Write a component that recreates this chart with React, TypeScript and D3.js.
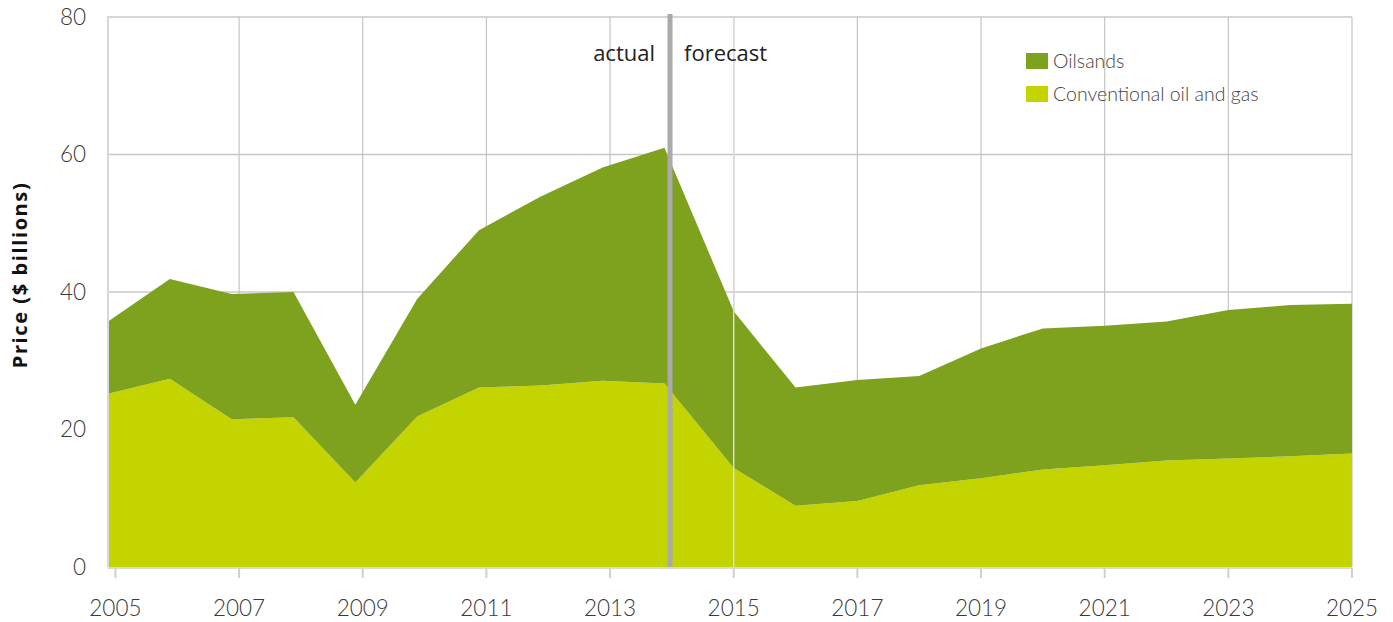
import React from 'react';
import * as d3 from 'd3';

// values in $ billions
const years = [2005, 2006, 2007, 2008, 2009, 2010, 2011, 2012, 2013, 2014, 2015,
  2016, 2017, 2018, 2019, 2020, 2021, 2022, 2023, 2024, 2025];
const conventional = [25.2, 27.4, 21.5, 21.8, 12.3, 21.9, 26.1, 26.4, 27.1, 26.7, 14.4,
  8.9, 9.6, 11.9, 12.9, 14.2, 14.8, 15.5, 15.8, 16.1, 16.5];
const oilsands = [10.5, 14.5, 18.2, 18.2, 11.3, 17.1, 22.9, 27.5, 31.0, 34.3, 22.8,
  17.2, 17.6, 15.9, 18.9, 20.5, 20.3, 20.2, 21.6, 22.0, 21.8];
const tickYears = [2005, 2007, 2009, 2011, 2013, 2015, 2017, 2019, 2021, 2023, 2025];
const yTicks = [0, 20, 40, 60, 80];
const lastActual = 2014;
const seriesNames = ['Oilsands', 'Conventional oil and gas'];

const W = 1393;
const H = 622;
const margin = { top: 17, right: 41, bottom: 55, left: 108 };
const COL_OIL = '#7ea21e';
const COL_CONV = '#c3d400';
const labelFont = 'Lato, "Open Sans", sans-serif';

const App: React.FC = () => {
  const x = d3.scaleLinear()
    .domain([2004.88, 2025])
    .range([margin.left, W - margin.right]);
  const y = d3.scaleLinear()
    .domain([0, 80])
    .range([H - margin.bottom, margin.top]);

  // actual values sit slightly before the year mark in the original
  const px = (yr: number) => x(yr <= lastActual ? yr - 0.12 : yr);

  const rows = years.map((yr, i) => ({ yr, conv: conventional[i], oil: oilsands[i] }));

  const convArea = d3.area<typeof rows[0]>()
    .x(d => px(d.yr))
    .y0(y(0))
    .y1(d => y(d.conv));
  const oilArea = d3.area<typeof rows[0]>()
    .x(d => px(d.yr))
    .y0(d => y(d.conv))
    .y1(d => y(d.conv + d.oil));

  const x0 = margin.left;
  const x1 = W - margin.right;
  const yBottom = y(0);
  const divX = x(lastActual - 0.03);

  return (
    <div style={{ position: 'absolute', left: 0, top: 0 }}>
      <svg width={W} height={H} style={{ display: 'block', background: '#fff' }}>
        {/* grid */}
        {yTicks.filter(t => t > 0).map(t => (
          <line key={'h' + t} x1={x0} x2={x1} y1={y(t)} y2={y(t)} stroke="#c8c8c8" strokeWidth={1.5} />
        ))}
        {tickYears.filter(t => t > 2005).map(t => (
          <line key={'v' + t} x1={x(t)} x2={x(t)} y1={margin.top} y2={yBottom} stroke="#c4c4c4" strokeWidth={1.2} />
        ))}

        {/* stacked areas */}
        <path d={convArea(rows) || ''} fill={COL_CONV} />
        <path d={oilArea(rows) || ''} fill={COL_OIL} />

        {/* 2015 gridline shows through the areas */}
        <line x1={x(2015)} x2={x(2015)} y1={margin.top} y2={yBottom} stroke="#dadada" strokeWidth={1.5} />

        {/* axes */}
        <line x1={x0} x2={x0} y1={margin.top - 1} y2={yBottom} stroke="#d8d8d8" strokeWidth={2} />
        <line x1={x0} x2={x1} y1={yBottom + 1} y2={yBottom + 1} stroke="#d8d8d8" strokeWidth={2} />
        {tickYears.map(t => (
          <line key={'t' + t} x1={x(t)} x2={x(t)} y1={yBottom + 1} y2={yBottom + 11} stroke="#d0d0d0" strokeWidth={2} />
        ))}

        {/* actual / forecast divider */}
        <line x1={divX} x2={divX} y1={margin.top - 3} y2={yBottom} stroke="#aaaaaa" strokeWidth={5} />
        <text x={divX - 15} y={61} textAnchor="end" fontFamily='"Open Sans", sans-serif' fontSize={22} fill="#222">actual</text>
        <text x={divX + 14} y={61} textAnchor="start" fontFamily='"Open Sans", sans-serif' fontSize={22} fill="#222">forecast</text>

        {/* tick labels */}
        {tickYears.map(t => (
          <text key={'xl' + t} x={x(t)} y={616} textAnchor="middle" fontFamily={labelFont} fontWeight={300} fontSize={22.5} fill="#3a3a3a">{t}</text>
        ))}
        {yTicks.map(t => (
          <text key={'yl' + t} x={86} y={y(t)} dy="0.35em" textAnchor="end" fontFamily={labelFont} fontWeight={300} fontSize={22.5} fill="#3a3a3a">{t}</text>
        ))}

        {/* y title */}
        <text transform={`translate(27,275) rotate(-90)`} textAnchor="middle"
          fontFamily='"Open Sans", sans-serif' fontWeight={700} fontSize={20} letterSpacing={1.6} fill="#111">Price ($ billions)</text>

        {/* legend */}
        {seriesNames.map((name, i) => (
          <g key={name} transform={`translate(1026,${53 + i * 33})`}>
            <rect width={22} height={16} fill={i === 0 ? COL_OIL : COL_CONV} />
            <text x={27} y={8} dy="0.36em" fontFamily={labelFont} fontWeight={300} fontSize={19.5} fill="#444">{name}</text>
          </g>
        ))}
      </svg>
    </div>
  );
};

export default App;
